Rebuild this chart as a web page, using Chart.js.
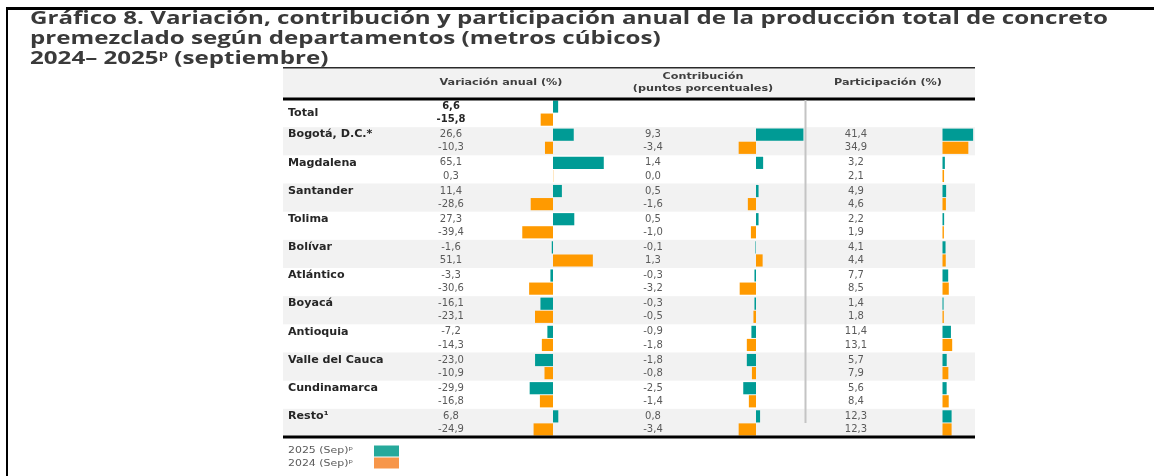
<!DOCTYPE html>
<html><head><meta charset="utf-8">
<script src="https://cdn.jsdelivr.net/npm/chart.js@4.4.1/dist/chart.umd.min.js"></script>
<style>
html,body{margin:0;padding:0;background:#fff;}
#wrap{position:relative;width:1154px;height:476px;overflow:hidden;background:#fff;}
canvas{position:absolute;left:0;top:0;}
#frameTop{position:absolute;left:6px;top:7px;width:1148px;height:3px;background:#000;}
#frameLeft{position:absolute;left:6px;top:7px;width:2px;height:469px;background:#000;}
#title{position:absolute;left:30px;top:7px;font-family:'Open Sans',sans-serif;font-weight:700;font-size:18px;line-height:20px;color:#3a3a3a;white-space:nowrap;transform-origin:0 0;}
#title span{display:inline-block;}
#title sup{font-size:11px;line-height:0;vertical-align:6px;}
</style></head>
<body>
<div id="wrap">
<canvas id="c" width="1154" height="476"></canvas>
<div id="frameTop"></div><div id="frameLeft"></div>
<div id="title"><span id="t1">Gráfico 8. Variación, contribución y participación anual de la producción total de concreto</span><br><span>premezclado según departamentos (metros cúbicos)</span><br><span>2024– 2025<sup>p</sup> (septiembre)</span></div>
</div>
<script>
// ---- data ----
const categories = ['Total','Bogotá, D.C.*','Magdalena','Santander','Tolima','Bolívar','Atlántico','Boyacá','Antioquia','Valle del Cauca','Cundinamarca','Resto¹'];
const seriesNames = ['2025 (Sep)ᵖ','2024 (Sep)ᵖ'];
const panelTitles = [['Variación anual (%)'],['Contribución','(puntos porcentuales)'],['Participación (%)']];
const var2025 = [6.6, 26.6, 65.1, 11.4, 27.3, -1.6, -3.3, -16.1, -7.2, -23.0, -29.9, 6.8];
const var2024 = [-15.8, -10.3, 0.3, -28.6, -39.4, 51.1, -30.6, -23.1, -14.3, -10.9, -16.8, -24.9];
const con2025 = [null, 9.3, 1.4, 0.5, 0.5, -0.1, -0.3, -0.3, -0.9, -1.8, -2.5, 0.8];
const con2024 = [null, -3.4, 0.0, -1.6, -1.0, 1.3, -3.2, -0.5, -1.8, -0.8, -1.4, -3.4];
const par2025 = [null, 41.4, 3.2, 4.9, 2.2, 4.1, 7.7, 1.4, 11.4, 5.7, 5.6, 12.3];
const par2024 = [null, 34.9, 2.1, 4.6, 1.9, 4.4, 8.5, 1.8, 13.1, 7.9, 8.4, 12.3];

// ---- title: stretch horizontally so line 1 spans the reference width ----
(function(){
  const t = document.getElementById('title');
  const w = document.getElementById('t1').getBoundingClientRect().width;
  const sx = Math.max(0.8, Math.min(1.6, 1078 / w));
  t.style.transform = 'scaleX(' + sx.toFixed(4) + ')';
})();

// ---- layout / style ----
const W = 1154, H = 476;
const LEFT = 283, RIGHT = 975, TOP = 99, BOTTOM = 437;
const TEAL = '#009B95', ORANGE = '#FF9A00';
const LEG_TEAL = '#26A99B', LEG_ORANGE = '#F7964A';
const FONT = "'DejaVu Sans', sans-serif";
const panels = [
  {zero: 553, k: 0.78, textX: 451, titleX: 501},
  {zero: 756, k: 5.1,  textX: 653, titleX: 703},
  {zero: 942.5, k: 0.74, textX: 856, titleX: 888}
];
function rng(p){ return {min: -(p.zero - LEFT)/p.k, max: (RIGHT - p.zero)/p.k}; }
const rv = rng(panels[0]), rc = rng(panels[1]), rp = rng(panels[2]);
const fmt = v => (v === null || v === undefined) ? '' : v.toFixed(1).replace('.', ',');

// draw text stretched horizontally by sx around its anchor x
function textSX(ctx, s, x, y, sx) {
  ctx.save();
  ctx.translate(x, y);
  ctx.scale(sx, 1);
  ctx.fillText(s, 0, 0);
  ctx.restore();
}

const tablePlugin = {
  id: 'table',
  beforeDraw(chart) {
    const ctx = chart.ctx, ys = chart.scales.y, a = chart.chartArea;
    ctx.save();
    ctx.fillStyle = '#fff'; ctx.fillRect(0, 0, W, H);
    ctx.fillStyle = '#F2F2F2';
    ctx.fillRect(a.left, 68, a.right - a.left, 30);
    const band = ys.getPixelForValue(1) - ys.getPixelForValue(0);
    categories.forEach((c, i) => {
      if (i % 2 === 1) {
        const yc = ys.getPixelForValue(i);
        ctx.fillRect(a.left, yc - band/2, a.right - a.left, band);
      }
    });
    ctx.restore();
  },
  afterDatasetsDraw(chart) {
    const ctx = chart.ctx, ys = chart.scales.y, a = chart.chartArea;
    ctx.save();
    ctx.fillStyle = '#2a2a2a'; ctx.fillRect(a.left, 67, a.right - a.left, 1.5);
    ctx.fillStyle = '#000'; ctx.fillRect(a.left, 97.5, a.right - a.left, 3);
    ctx.fillStyle = '#000'; ctx.fillRect(a.left, 435.5, a.right - a.left, 3);
    ctx.fillStyle = '#C4C4C4'; ctx.fillRect(804.5, 100, 2, 323);
    // header titles
    ctx.fillStyle = '#3f3f3f';
    ctx.font = 'bold 9.5px ' + FONT;
    ctx.textAlign = 'center'; ctx.textBaseline = 'middle';
    panelTitles.forEach((t, pi) => {
      const x = panels[pi].titleX;
      if (t.length === 1) textSX(ctx, t[0], x, 82.5, 1.18);
      else { textSX(ctx, t[0], x, 77, 1.18); textSX(ctx, t[1], x, 88.5, 1.18); }
    });
    // row labels + values
    const m25 = chart.getDatasetMeta(0).data, m24 = chart.getDatasetMeta(1).data;
    const all = [[var2025, var2024], [con2025, con2024], [par2025, par2024]];
    categories.forEach((c, i) => {
      const y25 = m25[i].y, y24 = m24[i].y;
      ctx.textAlign = 'left';
      ctx.fillStyle = '#262626';
      ctx.font = 'bold 10.5px ' + FONT;
      textSX(ctx, c, 288, i === 0 ? ys.getPixelForValue(0) : y25, 1.06);
      ctx.textAlign = 'center';
      ctx.fillStyle = i === 0 ? '#262626' : '#5a5a5a';
      ctx.font = (i === 0 ? 'bold ' : '') + '10px ' + FONT;
      all.forEach((pair, pi) => {
        ctx.fillText(fmt(pair[0][i]), panels[pi].textX, y25);
        ctx.fillText(fmt(pair[1][i]), panels[pi].textX, y24);
      });
    });
    // legend
    ctx.textAlign = 'left';
    ctx.font = '9.5px ' + FONT;
    ctx.fillStyle = '#5a5a5a';
    textSX(ctx, seriesNames[0], 288, 451, 1.15);
    textSX(ctx, seriesNames[1], 288, 463.5, 1.15);
    ctx.fillStyle = LEG_TEAL; ctx.fillRect(374, 445.5, 25, 11);
    ctx.fillStyle = LEG_ORANGE; ctx.fillRect(374, 457.5, 25, 11);
    ctx.restore();
  }
};

const common = {categoryPercentage: 0.93, barPercentage: 0.93, borderWidth: 0};
new Chart(document.getElementById('c'), {
  type: 'bar',
  data: {
    labels: categories,
    datasets: [
      {label: seriesNames[0], data: var2025, xAxisID: 'xv', backgroundColor: TEAL, stack: 's25', ...common},
      {label: seriesNames[1], data: var2024, xAxisID: 'xv', backgroundColor: ORANGE, stack: 's24', ...common},
      {label: seriesNames[0], data: con2025, xAxisID: 'xc', backgroundColor: TEAL, stack: 's25', ...common},
      {label: seriesNames[1], data: con2024, xAxisID: 'xc', backgroundColor: ORANGE, stack: 's24', ...common},
      {label: seriesNames[0], data: par2025, xAxisID: 'xp', backgroundColor: TEAL, stack: 's25', ...common},
      {label: seriesNames[1], data: par2024, xAxisID: 'xp', backgroundColor: ORANGE, stack: 's24', ...common}
    ]
  },
  options: {
    indexAxis: 'y',
    responsive: false,
    devicePixelRatio: 1,
    animation: false,
    layout: {padding: {left: LEFT, right: W - RIGHT, top: TOP, bottom: H - BOTTOM}},
    plugins: {legend: {display: false}, tooltip: {enabled: false}, title: {display: false}},
    scales: {
      y: {type: 'category', display: false, offset: true, grid: {display: false}},
      xv: {type: 'linear', position: 'bottom', display: false, min: rv.min, max: rv.max, grid: {display: false}},
      xc: {type: 'linear', position: 'bottom', display: false, min: rc.min, max: rc.max, grid: {display: false}},
      xp: {type: 'linear', position: 'bottom', display: false, min: rp.min, max: rp.max, grid: {display: false}}
    }
  },
  plugins: [tablePlugin]
});
</script>
</body></html>
